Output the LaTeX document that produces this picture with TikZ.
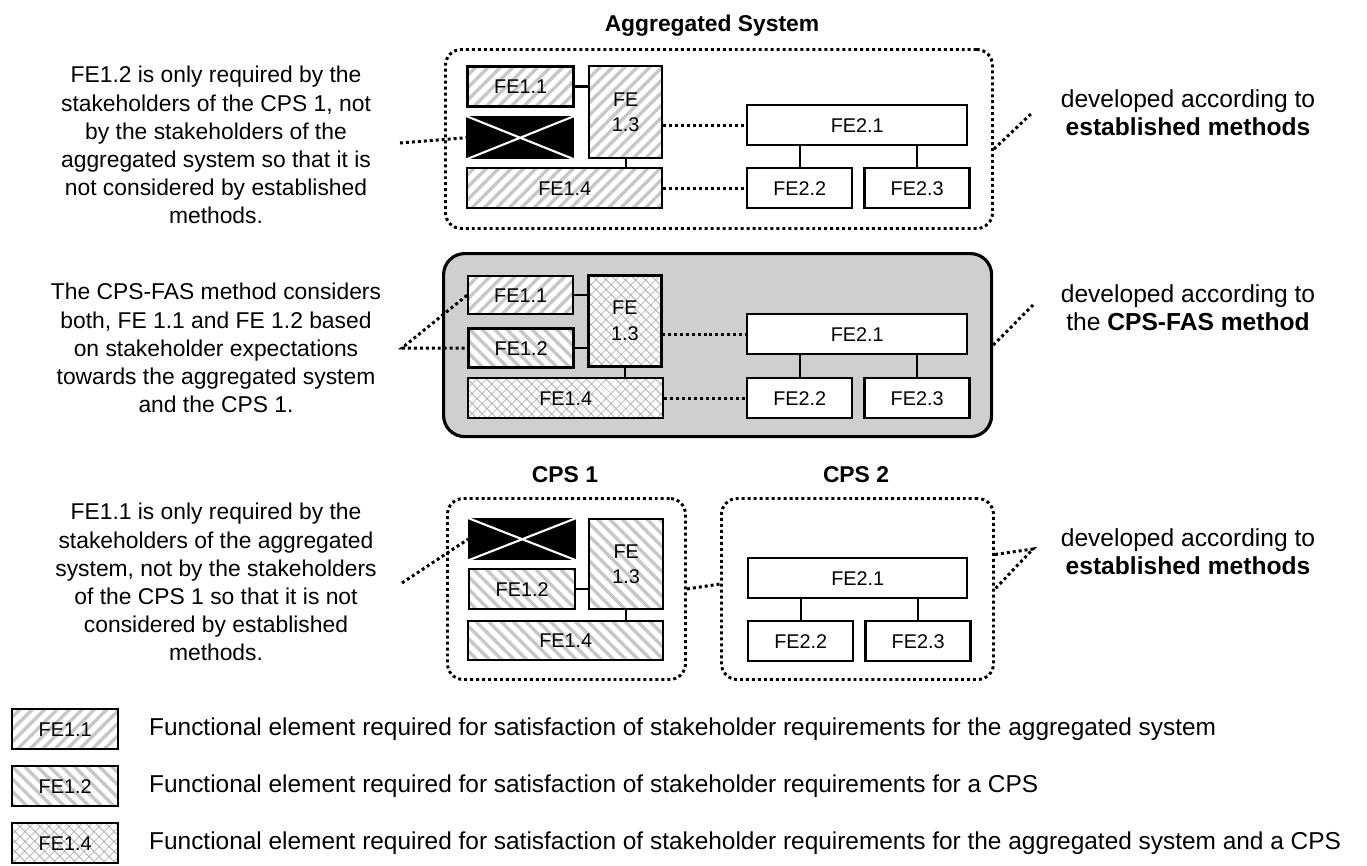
\documentclass[tikz,border=0pt]{standalone}
\usepackage{fontspec}
\setmainfont{Liberation Sans}
\usetikzlibrary{patterns.meta, positioning}
\tikzset{
  wh/.style 2 args={minimum width=#1*0.02cm, minimum height=#2*0.02cm},
  fe/.style={draw, line width=1.4pt, inner sep=0pt, anchor=north west, align=center,
    font=\fontsize{11.3}{14.5}\selectfont},
  plain/.style={fe, fill=white},
  aggfe/.style={fe, preaction={fill=white}, pattern color=black!22,
    pattern={Lines[angle=45, distance=5pt, line width=1.9pt]}},
  cpsfe/.style={fe, preaction={fill=white}, pattern color=black!22,
    pattern={Lines[angle=-45, distance=5pt, line width=1.9pt]}},
  bothfe/.style={fe, preaction={fill=white}, pattern color=black!35,
    pattern={Hatch[angle=45, distance=4pt, line width=0.4pt]}},
  gone/.style={fe, fill=black},
  system/.style={draw, line width=1.7pt, dash pattern=on 1.7pt off 1.7pt,
    rounded corners=9pt, anchor=north west, inner sep=0pt},
  fasbox/.style={draw, line width=1.8pt, fill=black!19, rounded corners=12pt,
    anchor=north west, inner sep=0pt},
  link/.style={line width=1.4pt},
  note/.style={line width=1.7pt, dash pattern=on 1.7pt off 1.7pt},
  cross/.style={white, line width=1.2pt},
  txt/.style={align=center, font=\fontsize{13}{16}\selectfont},
  side/.style={align=center, font=\fontsize{14}{16}\selectfont},
  title/.style={font=\bfseries\fontsize{13}{16}\selectfont},
  legend/.style={anchor=west, font=\fontsize{13.9}{17}\selectfont}
}
\begin{document}
\begin{tikzpicture}[x=0.02cm, y=-0.02cm]
  \useasboundingbox (0,0) rectangle (1367,866);

  % aggregated system
  \node[title] (aggt) at (712,26) {Aggregated System};
  \node[system, wh={547}{179}] (agg) at (444,48) {};
  \node[aggfe, wh={106}{40}] (a11) at (466,65) {FE1.1};
  \node[aggfe, wh={73}{92}]  (a13) at (588,65) {FE\\1.3};
  \node[gone,  wh={106}{41}] (ax)  at (466,116) {};
  \node[aggfe, wh={195}{40}] (a14) at (466,167) {FE1.4};
  \node[plain, wh={220}{40}] (a21) at (746,104) {FE2.1};
  \node[plain, wh={105}{40}] (a22) at (746,167) {FE2.2};
  \node[plain, wh={105}{40}, right=0.2cm of a22] (a23) {FE2.3};
  \draw[cross] (ax.north west) -- (ax.south east) (ax.south west) -- (ax.north east);
  \draw[link] (a11.east) -- (a11.east -| a13.west)
              (a13.south) -- (a13.south |- a14.north)
              (a22.north) -- (a22.north |- a21.south)
              (a23.north) -- (a23.north |- a21.south);
  \draw[note] (a21.west -| a13.east) -- (a21.west)
              (a14.east) -- (a22.west);

  % CPS-FAS
  \node[fasbox, wh={548}{183}] (fas) at (442,252) {};
  \node[aggfe,  wh={105}{38}] (b11) at (467,275) {FE1.1};
  \node[cpsfe,  wh={105}{39}] (b12) at (467,327) {FE1.2};
  \node[bothfe, wh={73}{91}]  (b13) at (588,275) {FE\\1.3};
  \node[bothfe, wh={195}{40}] (b14) at (467,377) {FE1.4};
  \node[plain,  wh={220}{40}] (b21) at (746,313) {FE2.1};
  \node[plain,  wh={105}{40}] (b22) at (746,377) {FE2.2};
  \node[plain,  wh={105}{40}, right=0.2cm of b22] (b23) {FE2.3};
  \draw[link] (b11.east) -- (b11.east -| b13.west)
              (b12.east) -- (b12.east -| b13.west)
              (b13.south) -- (b13.south |- b14.north)
              (b22.north) -- (b22.north |- b21.south)
              (b23.north) -- (b23.north |- b21.south);
  \draw[note] (b21.west -| b13.east) -- (b21.west)
              (b14.east) -- (b22.west);

  % CPS 1 and CPS 2
  \node[title] (cps1t) at (565,475) {CPS 1};
  \node[title] (cps2t) at (856,475) {CPS 2};
  \node[system, wh={238}{181}] (cps1) at (446,497) {};
  \node[system, wh={272}{181}] (cps2) at (720,497) {};
  \node[gone,  wh={106}{40}] (cx)  at (468,518) {};
  \node[cpsfe, wh={106}{40}] (c12) at (468,568) {FE1.2};
  \node[cpsfe, wh={74}{90}]  (c13) at (588,518) {FE\\1.3};
  \node[cpsfe, wh={195}{39}] (c14) at (467,620) {FE1.4};
  \node[plain, wh={219}{40}] (c21) at (747,557) {FE2.1};
  \node[plain, wh={105}{40}] (c22) at (747,620) {FE2.2};
  \node[plain, wh={105}{40}, right=0.2cm of c22] (c23) {FE2.3};
  \draw[cross] (cx.north west) -- (cx.south east) (cx.south west) -- (cx.north east);
  \draw[link] (c12.east) -- (c12.east -| c13.west)
              (c13.south) -- (c13.south |- c14.north)
              (c22.north) -- (c22.north |- c21.south)
              (c23.north) -- (c23.north |- c21.south);
  \draw[note] (cps1.east) -- ([yshift=0.1cm]cps2.west);

  % notes
  \node[txt] (n1) at (216,145) {FE1.2 is only required by the\\stakeholders of the CPS 1, not\\by the stakeholders of the\\aggregated system so that it is\\not considered by established\\methods.};
  \node[txt] (n2) at (216,348) {The CPS-FAS method considers\\both, FE 1.1 and FE 1.2 based\\on stakeholder expectations\\towards the aggregated system\\and the CPS 1.};
  \node[txt] (n3) at (216,582) {FE1.1 is only required by the\\stakeholders of the aggregated\\system, not by the stakeholders\\of the CPS 1 so that it is not\\considered by established\\methods.};
  \node[side] (m1) at (1188,113) {developed according to\\\textbf{established methods}};
  \node[side] (m2) at (1188,308) {developed according to\\the \textbf{CPS-FAS method}};
  \node[side] (m3) at (1188,552) {developed according to\\\textbf{established methods}};
  \coordinate (p1) at (400,143);
  \coordinate (p2) at (402,348);
  \coordinate (p3) at (402,583);
  \coordinate (q1) at (1033,112);
  \coordinate (q2) at (1033,305);
  \coordinate (q3) at (1033,549);
  \draw[note] (p1) -- (ax.west);
  \draw[note] (b11.west) -- (p2) -- (b12.west);
  \draw[note] (p3) -- (cx.west);
  \draw[note] ([yshift=-0.2cm]agg.east) -- (q1);
  \draw[note] (fas.east) -- (q2);
  \draw[note] ([yshift=0.69cm]cps2.east) -- (q3) -- (cps2.east);

  % legend
  \node[aggfe,  wh={106}{40}] (l11) at (11,708) {FE1.1};
  \node[cpsfe,  wh={106}{40}] (l12) at (11,765) {FE1.2};
  \node[bothfe, wh={106}{40}] (l14) at (11,822) {FE1.4};
  \node[legend] (t11) at (143,729) {Functional element required for satisfaction of stakeholder requirements for the aggregated system};
  \node[legend] (t12) at (143,786) {Functional element required for satisfaction of stakeholder requirements for a CPS};
  \node[legend] (t14) at (143,843) {Functional element required for satisfaction of stakeholder requirements for the aggregated system and a CPS};
\end{tikzpicture}
\end{document}
